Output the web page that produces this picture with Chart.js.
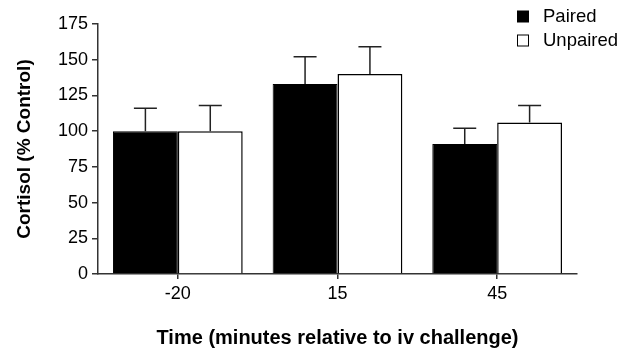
<!DOCTYPE html>
<html>
<head>
<meta charset="utf-8">
<script src="https://cdn.jsdelivr.net/npm/chart.js@4/dist/chart.umd.min.js"></script>
<style>
html,body{margin:0;padding:0;background:#fff;}
canvas{display:block;}
</style>
</head>
<body>
<canvas id="c" width="633" height="351"></canvas>
<script>
const categories = ['-20', '15', '45'];
const pairedValues = [100, 133, 91];
const pairedErrors = [16, 19, 11];
const unpairedValues = [100, 140, 106];
const unpairedErrors = [18, 19, 12];
const yTicks = [0, 25, 50, 75, 100, 125, 150, 175];

const FONT = "'Liberation Sans', Arial, Helvetica, sans-serif";
const errorSets = [pairedErrors, unpairedErrors];

const errorBars = {
  id: 'errorBars',
  afterDatasetsDraw(chart) {
    const ctx = chart.ctx;
    const y = chart.scales.y;
    ctx.save();
    ctx.strokeStyle = '#222';
    ctx.lineWidth = 1.5;
    chart.data.datasets.forEach((ds, di) => {
      const meta = chart.getDatasetMeta(di);
      meta.data.forEach((bar, i) => {
        const top = y.getPixelForValue(ds.data[i] + errorSets[di][i]);
        const base = y.getPixelForValue(ds.data[i]);
        ctx.beginPath();
        ctx.moveTo(bar.x, base);
        ctx.lineTo(bar.x, top);
        ctx.moveTo(bar.x - 11.5, top);
        ctx.lineTo(bar.x + 11.5, top);
        ctx.stroke();
      });
    });
    ctx.restore();
  }
};

const customLegend = {
  id: 'customLegend',
  afterDraw(chart) {
    const ctx = chart.ctx;
    ctx.save();
    ctx.font = '18.5px ' + FONT;
    ctx.textBaseline = 'middle';
    ctx.textAlign = 'left';
    chart.data.datasets.forEach((ds, i) => {
      const cy = 17 + i * 24;
      ctx.fillStyle = ds.backgroundColor;
      ctx.fillRect(517.5, cy - 6, 11, 11);
      ctx.strokeStyle = '#000';
      ctx.lineWidth = 1;
      ctx.strokeRect(517.5, cy - 6, 11, 11);
      ctx.fillStyle = '#000';
      ctx.fillText(ds.label, 543, cy);
    });
    ctx.restore();
  }
};

new Chart(document.getElementById('c'), {
  type: 'bar',
  data: {
    labels: categories,
    datasets: [
      { label: 'Paired', data: pairedValues, backgroundColor: '#000', borderColor: '#000', borderWidth: 1 },
      { label: 'Unpaired', data: unpairedValues, backgroundColor: '#fff', borderColor: '#000', borderWidth: 1.5 }
    ]
  },
  options: {
    responsive: false,
    animation: false,
    devicePixelRatio: 1,
    layout: { padding: { top: 24, right: 56, bottom: 0, left: 0 } },
    datasets: { bar: { categoryPercentage: 0.8125, barPercentage: 1 } },
    plugins: { legend: { display: false }, tooltip: { enabled: false } },
    scales: {
      x: {
        afterFit(scale) { scale.height = 77; },
        grid: { display: true, drawOnChartArea: false, drawTicks: true, tickLength: 5, offset: false, color: '#333', lineWidth: 1.5 },
        border: { display: true, color: '#333', width: 1.5 },
        ticks: { color: '#000', font: { family: FONT, size: 18 }, padding: 4, maxRotation: 0 },
        title: { display: true, text: 'Time (minutes relative to iv challenge)', color: '#000', font: { family: FONT, size: 20, weight: 'bold', lineHeight: 1.2 }, padding: { top: 0, bottom: 1 } }
      },
      y: {
        min: 0, max: 175,
        afterFit(scale) { scale.width = 98; },
        afterBuildTicks(scale) { scale.ticks = yTicks.map(v => ({ value: v })); },
        grid: { display: true, drawOnChartArea: false, drawTicks: true, tickLength: 6, color: '#333', lineWidth: 1.5 },
        border: { display: true, color: '#333', width: 1.5 },
        ticks: { color: '#000', font: { family: FONT, size: 18 }, padding: 4 },
        title: { display: true, text: 'Cortisol (% Control)', color: '#000', font: { family: FONT, size: 19, weight: 'bold', lineHeight: 1.2 }, padding: { top: 13.5, bottom: 0 } }
      }
    }
  },
  plugins: [errorBars, customLegend]
});
</script>
</body>
</html>
